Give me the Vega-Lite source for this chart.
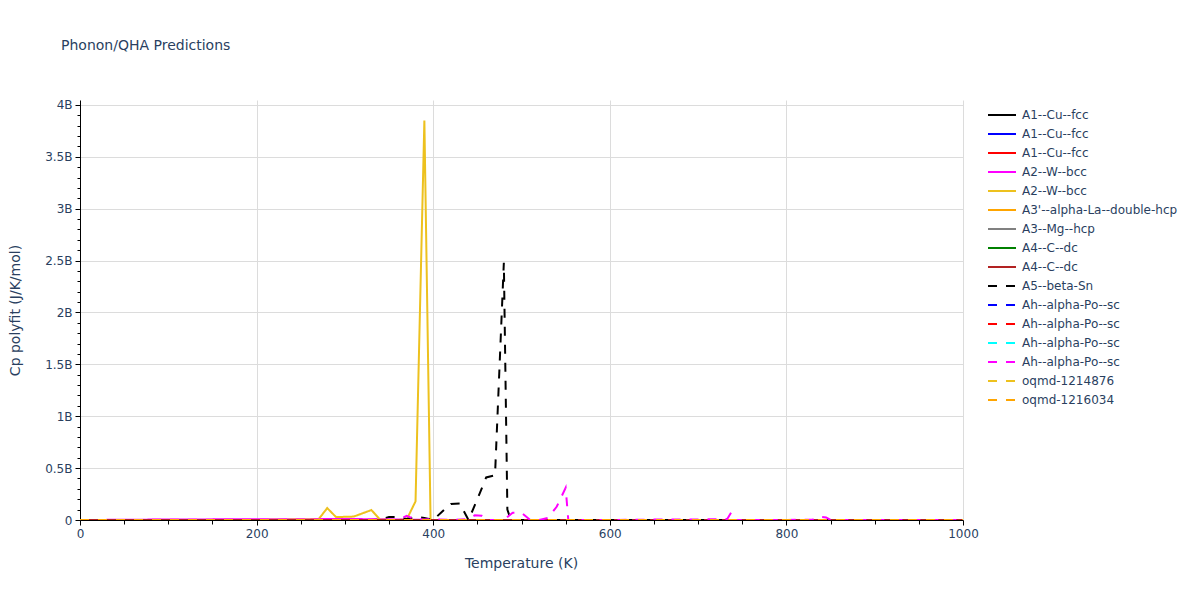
{
  "$schema": "https://vega.github.io/schema/vega-lite/v6.json",
  "width": 883,
  "height": 420,
  "autosize": {"type": "none"},
  "padding": {"left": 80, "top": 100, "right": 237, "bottom": 80},
  "background": "white",
  "title": {"text": "Phonon/QHA Predictions", "anchor": "start", "frame": "group", "fontSize": 14, "font": "DejaVu Sans", "fontWeight": "normal", "color": "#2a3f5f", "dx": -19, "dy": -42},
  "config": {"view": {"stroke": null}, "font": "DejaVu Sans"},
  "data": {"values": [
    {"series": "01|A1--Cu--fcc", "T": 0, "Cp": 0}, {"series": "01|A1--Cu--fcc", "T": 200, "Cp": 0}, {"series": "01|A1--Cu--fcc", "T": 400, "Cp": 0}, {"series": "01|A1--Cu--fcc", "T": 600, "Cp": 0}, {"series": "01|A1--Cu--fcc", "T": 800, "Cp": 0}, {"series": "01|A1--Cu--fcc", "T": 1000, "Cp": 0},
    {"series": "02|A1--Cu--fcc", "T": 0, "Cp": 0}, {"series": "02|A1--Cu--fcc", "T": 200, "Cp": 0}, {"series": "02|A1--Cu--fcc", "T": 400, "Cp": 0}, {"series": "02|A1--Cu--fcc", "T": 600, "Cp": 0}, {"series": "02|A1--Cu--fcc", "T": 800, "Cp": 0}, {"series": "02|A1--Cu--fcc", "T": 1000, "Cp": 0},
    {"series": "03|A1--Cu--fcc", "T": 0, "Cp": 0}, {"series": "03|A1--Cu--fcc", "T": 200, "Cp": 0}, {"series": "03|A1--Cu--fcc", "T": 400, "Cp": 0}, {"series": "03|A1--Cu--fcc", "T": 600, "Cp": 0}, {"series": "03|A1--Cu--fcc", "T": 800, "Cp": 0}, {"series": "03|A1--Cu--fcc", "T": 1000, "Cp": 0},
    {"series": "04|A2--W--bcc", "T": 0, "Cp": 0}, {"series": "04|A2--W--bcc", "T": 50, "Cp": 2000000}, {"series": "04|A2--W--bcc", "T": 100, "Cp": 5000000}, {"series": "04|A2--W--bcc", "T": 150, "Cp": 6000000}, {"series": "04|A2--W--bcc", "T": 200, "Cp": 8000000}, {"series": "04|A2--W--bcc", "T": 250, "Cp": 8000000}, {"series": "04|A2--W--bcc", "T": 300, "Cp": 10000000}, {"series": "04|A2--W--bcc", "T": 350, "Cp": 6000000}, {"series": "04|A2--W--bcc", "T": 400, "Cp": 0}, {"series": "04|A2--W--bcc", "T": 600, "Cp": 0}, {"series": "04|A2--W--bcc", "T": 800, "Cp": 0}, {"series": "04|A2--W--bcc", "T": 1000, "Cp": 0},
    {"series": "05|A2--W--bcc", "T": 0, "Cp": 0}, {"series": "05|A2--W--bcc", "T": 100, "Cp": 0}, {"series": "05|A2--W--bcc", "T": 200, "Cp": 0}, {"series": "05|A2--W--bcc", "T": 250, "Cp": 5000000}, {"series": "05|A2--W--bcc", "T": 270, "Cp": 5000000}, {"series": "05|A2--W--bcc", "T": 280, "Cp": 115000000}, {"series": "05|A2--W--bcc", "T": 290, "Cp": 28000000}, {"series": "05|A2--W--bcc", "T": 310, "Cp": 33000000}, {"series": "05|A2--W--bcc", "T": 330, "Cp": 96000000}, {"series": "05|A2--W--bcc", "T": 340, "Cp": 2000000}, {"series": "05|A2--W--bcc", "T": 360, "Cp": 0}, {"series": "05|A2--W--bcc", "T": 370, "Cp": 5000000}, {"series": "05|A2--W--bcc", "T": 380, "Cp": 180000000}, {"series": "05|A2--W--bcc", "T": 390, "Cp": 3850000000}, {"series": "05|A2--W--bcc", "T": 397, "Cp": 0}, {"series": "05|A2--W--bcc", "T": 600, "Cp": 0}, {"series": "05|A2--W--bcc", "T": 800, "Cp": 0}, {"series": "05|A2--W--bcc", "T": 1000, "Cp": 0},
    {"series": "06|A3'--alpha-La--double-hcp", "T": 0, "Cp": 0}, {"series": "06|A3'--alpha-La--double-hcp", "T": 200, "Cp": 0}, {"series": "06|A3'--alpha-La--double-hcp", "T": 400, "Cp": 0}, {"series": "06|A3'--alpha-La--double-hcp", "T": 600, "Cp": 0}, {"series": "06|A3'--alpha-La--double-hcp", "T": 800, "Cp": 0}, {"series": "06|A3'--alpha-La--double-hcp", "T": 1000, "Cp": 0},
    {"series": "07|A3--Mg--hcp", "T": 0, "Cp": 0}, {"series": "07|A3--Mg--hcp", "T": 200, "Cp": 0}, {"series": "07|A3--Mg--hcp", "T": 400, "Cp": 0}, {"series": "07|A3--Mg--hcp", "T": 600, "Cp": 0}, {"series": "07|A3--Mg--hcp", "T": 800, "Cp": 0}, {"series": "07|A3--Mg--hcp", "T": 1000, "Cp": 0},
    {"series": "08|A4--C--dc", "T": 0, "Cp": 0}, {"series": "08|A4--C--dc", "T": 200, "Cp": 0}, {"series": "08|A4--C--dc", "T": 400, "Cp": 0}, {"series": "08|A4--C--dc", "T": 600, "Cp": 0}, {"series": "08|A4--C--dc", "T": 800, "Cp": 0}, {"series": "08|A4--C--dc", "T": 1000, "Cp": 0},
    {"series": "09|A4--C--dc", "T": 0, "Cp": 0}, {"series": "09|A4--C--dc", "T": 200, "Cp": 0}, {"series": "09|A4--C--dc", "T": 400, "Cp": 0}, {"series": "09|A4--C--dc", "T": 600, "Cp": 0}, {"series": "09|A4--C--dc", "T": 800, "Cp": 0}, {"series": "09|A4--C--dc", "T": 1000, "Cp": 0},
    {"series": "10|A5--beta-Sn", "T": 0, "Cp": 0}, {"series": "10|A5--beta-Sn", "T": 200, "Cp": 0}, {"series": "10|A5--beta-Sn", "T": 330, "Cp": 0}, {"series": "10|A5--beta-Sn", "T": 340, "Cp": 5000000}, {"series": "10|A5--beta-Sn", "T": 350, "Cp": 30000000}, {"series": "10|A5--beta-Sn", "T": 360, "Cp": 28000000}, {"series": "10|A5--beta-Sn", "T": 370, "Cp": 10000000}, {"series": "10|A5--beta-Sn", "T": 380, "Cp": 30000000}, {"series": "10|A5--beta-Sn", "T": 390, "Cp": 20000000}, {"series": "10|A5--beta-Sn", "T": 400, "Cp": 0}, {"series": "10|A5--beta-Sn", "T": 410, "Cp": 80000000}, {"series": "10|A5--beta-Sn", "T": 420, "Cp": 155000000}, {"series": "10|A5--beta-Sn", "T": 430, "Cp": 160000000}, {"series": "10|A5--beta-Sn", "T": 440, "Cp": 0}, {"series": "10|A5--beta-Sn", "T": 450, "Cp": 200000000}, {"series": "10|A5--beta-Sn", "T": 460, "Cp": 410000000}, {"series": "10|A5--beta-Sn", "T": 470, "Cp": 430000000}, {"series": "10|A5--beta-Sn", "T": 480, "Cp": 2480000000}, {"series": "10|A5--beta-Sn", "T": 484, "Cp": 100000000}, {"series": "10|A5--beta-Sn", "T": 488, "Cp": 0}, {"series": "10|A5--beta-Sn", "T": 600, "Cp": 0}, {"series": "10|A5--beta-Sn", "T": 800, "Cp": 0}, {"series": "10|A5--beta-Sn", "T": 1000, "Cp": 0},
    {"series": "11|Ah--alpha-Po--sc", "T": 0, "Cp": 0}, {"series": "11|Ah--alpha-Po--sc", "T": 200, "Cp": 0}, {"series": "11|Ah--alpha-Po--sc", "T": 400, "Cp": 0}, {"series": "11|Ah--alpha-Po--sc", "T": 600, "Cp": 0}, {"series": "11|Ah--alpha-Po--sc", "T": 800, "Cp": 0}, {"series": "11|Ah--alpha-Po--sc", "T": 1000, "Cp": 0},
    {"series": "12|Ah--alpha-Po--sc", "T": 0, "Cp": 0}, {"series": "12|Ah--alpha-Po--sc", "T": 200, "Cp": 0}, {"series": "12|Ah--alpha-Po--sc", "T": 400, "Cp": 0}, {"series": "12|Ah--alpha-Po--sc", "T": 600, "Cp": 0}, {"series": "12|Ah--alpha-Po--sc", "T": 800, "Cp": 0}, {"series": "12|Ah--alpha-Po--sc", "T": 1000, "Cp": 0},
    {"series": "13|Ah--alpha-Po--sc", "T": 0, "Cp": 0}, {"series": "13|Ah--alpha-Po--sc", "T": 200, "Cp": 0}, {"series": "13|Ah--alpha-Po--sc", "T": 400, "Cp": 0}, {"series": "13|Ah--alpha-Po--sc", "T": 600, "Cp": 0}, {"series": "13|Ah--alpha-Po--sc", "T": 800, "Cp": 0}, {"series": "13|Ah--alpha-Po--sc", "T": 1000, "Cp": 0},
    {"series": "14|Ah--alpha-Po--sc", "T": 0, "Cp": 0}, {"series": "14|Ah--alpha-Po--sc", "T": 200, "Cp": 3000000}, {"series": "14|Ah--alpha-Po--sc", "T": 300, "Cp": 5000000}, {"series": "14|Ah--alpha-Po--sc", "T": 350, "Cp": 5000000}, {"series": "14|Ah--alpha-Po--sc", "T": 360, "Cp": 0}, {"series": "14|Ah--alpha-Po--sc", "T": 370, "Cp": 40000000}, {"series": "14|Ah--alpha-Po--sc", "T": 380, "Cp": 5000000}, {"series": "14|Ah--alpha-Po--sc", "T": 400, "Cp": 8000000}, {"series": "14|Ah--alpha-Po--sc", "T": 420, "Cp": 0}, {"series": "14|Ah--alpha-Po--sc", "T": 440, "Cp": 10000000}, {"series": "14|Ah--alpha-Po--sc", "T": 447, "Cp": 45000000}, {"series": "14|Ah--alpha-Po--sc", "T": 455, "Cp": 40000000}, {"series": "14|Ah--alpha-Po--sc", "T": 462, "Cp": 0}, {"series": "14|Ah--alpha-Po--sc", "T": 480, "Cp": 0}, {"series": "14|Ah--alpha-Po--sc", "T": 490, "Cp": 70000000}, {"series": "14|Ah--alpha-Po--sc", "T": 500, "Cp": 70000000}, {"series": "14|Ah--alpha-Po--sc", "T": 510, "Cp": 0}, {"series": "14|Ah--alpha-Po--sc", "T": 520, "Cp": 0}, {"series": "14|Ah--alpha-Po--sc", "T": 530, "Cp": 20000000}, {"series": "14|Ah--alpha-Po--sc", "T": 540, "Cp": 130000000}, {"series": "14|Ah--alpha-Po--sc", "T": 550, "Cp": 310000000}, {"series": "14|Ah--alpha-Po--sc", "T": 553, "Cp": 0}, {"series": "14|Ah--alpha-Po--sc", "T": 600, "Cp": 0}, {"series": "14|Ah--alpha-Po--sc", "T": 660, "Cp": 5000000}, {"series": "14|Ah--alpha-Po--sc", "T": 700, "Cp": 5000000}, {"series": "14|Ah--alpha-Po--sc", "T": 720, "Cp": 8000000}, {"series": "14|Ah--alpha-Po--sc", "T": 733, "Cp": 10000000}, {"series": "14|Ah--alpha-Po--sc", "T": 738, "Cp": 80000000}, {"series": "14|Ah--alpha-Po--sc", "T": 740, "Cp": 0}, {"series": "14|Ah--alpha-Po--sc", "T": 800, "Cp": 0}, {"series": "14|Ah--alpha-Po--sc", "T": 830, "Cp": 5000000}, {"series": "14|Ah--alpha-Po--sc", "T": 837, "Cp": 30000000}, {"series": "14|Ah--alpha-Po--sc", "T": 845, "Cp": 25000000}, {"series": "14|Ah--alpha-Po--sc", "T": 850, "Cp": 0}, {"series": "14|Ah--alpha-Po--sc", "T": 1000, "Cp": 0},
    {"series": "15|oqmd-1214876", "T": 0, "Cp": 0}, {"series": "15|oqmd-1214876", "T": 200, "Cp": 0}, {"series": "15|oqmd-1214876", "T": 400, "Cp": 0}, {"series": "15|oqmd-1214876", "T": 600, "Cp": 0}, {"series": "15|oqmd-1214876", "T": 800, "Cp": 0}, {"series": "15|oqmd-1214876", "T": 1000, "Cp": 0},
    {"series": "16|oqmd-1216034", "T": 0, "Cp": 0}, {"series": "16|oqmd-1216034", "T": 200, "Cp": 0}, {"series": "16|oqmd-1216034", "T": 400, "Cp": 0}, {"series": "16|oqmd-1216034", "T": 600, "Cp": 0}, {"series": "16|oqmd-1216034", "T": 800, "Cp": 0}, {"series": "16|oqmd-1216034", "T": 1000, "Cp": 0}
  ]},
  "encoding": {
    "color": {
      "field": "series", "type": "nominal",
      "scale": {
        "domain": ["01|A1--Cu--fcc", "02|A1--Cu--fcc", "03|A1--Cu--fcc", "04|A2--W--bcc", "05|A2--W--bcc", "06|A3'--alpha-La--double-hcp", "07|A3--Mg--hcp", "08|A4--C--dc", "09|A4--C--dc", "10|A5--beta-Sn", "11|Ah--alpha-Po--sc", "12|Ah--alpha-Po--sc", "13|Ah--alpha-Po--sc", "14|Ah--alpha-Po--sc", "15|oqmd-1214876", "16|oqmd-1216034"],
        "range": ["black", "blue", "red", "magenta", "#edc11e", "orange", "gray", "green", "#b22222", "black", "blue", "red", "cyan", "magenta", "#edc11e", "orange"]
      },
      "legend": {"orient": "none", "legendX": 914, "legendY": 7, "title": null, "padding": 0, "symbolType": "M-2,0H2", "symbolSize": 196, "symbolStrokeWidth": 2, "labelOffset": 12, "labelFontSize": 12, "labelColor": "#2a3f5f", "labelFont": "DejaVu Sans", "rowPadding": 5, "labelExpr": "split(datum.label, '|')[1]"}
    },
    "strokeDash": {
      "field": "series", "type": "nominal",
      "scale": {
        "domain": ["01|A1--Cu--fcc", "02|A1--Cu--fcc", "03|A1--Cu--fcc", "04|A2--W--bcc", "05|A2--W--bcc", "06|A3'--alpha-La--double-hcp", "07|A3--Mg--hcp", "08|A4--C--dc", "09|A4--C--dc", "10|A5--beta-Sn", "11|Ah--alpha-Po--sc", "12|Ah--alpha-Po--sc", "13|Ah--alpha-Po--sc", "14|Ah--alpha-Po--sc", "15|oqmd-1214876", "16|oqmd-1216034"],
        "range": [[1, 0], [1, 0], [1, 0], [1, 0], [1, 0], [1, 0], [1, 0], [1, 0], [1, 0], [9, 9], [9, 9], [9, 9], [9, 9], [9, 9], [9, 9], [9, 9]]
      },
      "legend": {"orient": "none", "legendX": 914, "legendY": 7, "title": null, "padding": 0, "symbolType": "M-2,0H2", "symbolSize": 196, "symbolStrokeWidth": 2, "labelOffset": 12, "labelFontSize": 12, "labelColor": "#2a3f5f", "labelFont": "DejaVu Sans", "rowPadding": 5, "labelExpr": "split(datum.label, '|')[1]"}
    }
  },
  "layer": [
    {
      "transform": [{"filter": "toNumber(slice(datum.series, 0, 2)) <= 9"}],
      "mark": {"type": "line", "strokeWidth": 2, "clip": true},
      "encoding": {
        "x": {"field": "T", "type": "quantitative", "title": "Temperature (K)", "scale": {"domain": [0, 1000], "nice": false, "zero": false},
          "axis": {"orient": "bottom", "values": [0, 200, 400, 600, 800, 1000], "format": "d", "grid": true, "gridColor": "#dcdcdc", "gridWidth": 1, "domainColor": "#000000", "domainWidth": 1, "tickColor": "#000000", "tickSize": 5, "labelPadding": 3, "labelFontSize": 12, "labelColor": "#2a3f5f", "labelFont": "DejaVu Sans", "titleFontSize": 14, "titleFont": "DejaVu Sans", "titleFontWeight": "normal", "titleColor": "#2a3f5f", "titleX": 441, "titleY": 43, "titleBaseline": "middle", "labelFlush": false}},
        "y": {"field": "Cp", "type": "quantitative", "title": "Cp polyfit (J/K/mol)", "scale": {"domain": [0, 4048000000], "nice": false, "zero": true},
          "axis": {"orient": "left", "values": [0, 500000000, 1000000000, 1500000000, 2000000000, 2500000000, 3000000000, 3500000000, 4000000000], "labelExpr": "datum.value == 0 ? '0' : (datum.value / 1000000000) + 'B'", "grid": true, "gridColor": "#dcdcdc", "gridWidth": 1, "domainColor": "#000000", "domainWidth": 1, "tickColor": "#000000", "tickSize": 5, "labelPadding": 3, "labelFontSize": 12, "labelColor": "#2a3f5f", "labelFont": "DejaVu Sans", "titleFontSize": 14, "titleFont": "DejaVu Sans", "titleFontWeight": "normal", "titleColor": "#2a3f5f", "titleX": -65, "titleY": 210, "titleBaseline": "middle", "labelFlush": false}}
      }
    },
    {
      "transform": [{"filter": "toNumber(slice(datum.series, 0, 2)) > 9"}],
      "mark": {"type": "line", "strokeWidth": 2, "clip": true},
      "encoding": {
        "x": {"field": "T", "type": "quantitative", "title": null, "scale": {"domain": [0, 1000], "nice": false, "zero": false},
          "axis": {"orient": "bottom", "values": [50, 100, 150, 250, 300, 350, 450, 500, 550, 650, 700, 750, 850, 900, 950], "labels": false, "grid": false, "domain": false, "tickColor": "#000000", "tickSize": 4}},
        "y": {"field": "Cp", "type": "quantitative", "title": null, "scale": {"domain": [0, 4048000000], "nice": false, "zero": true},
          "axis": {"orient": "left", "values": [100000000, 200000000, 300000000, 400000000, 600000000, 700000000, 800000000, 900000000, 1100000000, 1200000000, 1300000000, 1400000000, 1600000000, 1700000000, 1800000000, 1900000000, 2100000000, 2200000000, 2300000000, 2400000000, 2600000000, 2700000000, 2800000000, 2900000000, 3100000000, 3200000000, 3300000000, 3400000000, 3600000000, 3700000000, 3800000000, 3900000000], "labels": false, "grid": false, "domain": false, "tickColor": "#000000", "tickSize": 3}}
      }
    }
  ],
  "resolve": {"axis": {"x": "independent", "y": "independent"}}
}
